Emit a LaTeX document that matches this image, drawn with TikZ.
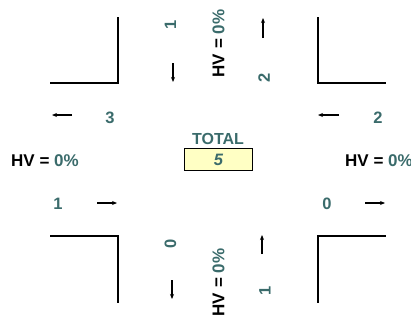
\documentclass[tikz,border=0pt]{standalone}
\usepackage{fontspec}
\setmainfont{Liberation Sans}
\usetikzlibrary{arrows.meta}
\definecolor{tealnum}{HTML}{3A6B6B}
\definecolor{boxfill}{HTML}{FFFFC4}
\begin{document}
\begin{tikzpicture}[x=1pt,y=-1pt,
  curb/.style={line width=2.2pt,line cap=rect},
  flow/.style={line width=1.2pt,-{Stealth[length=5pt,width=4pt]}},
  num/.style={font=\fontsize{16.5}{18}\selectfont\bfseries,text=tealnum,inner sep=0pt},
  hv/.style={font=\fontsize{17}{19}\selectfont\bfseries,inner sep=0pt}]
\useasboundingbox (0,0) rectangle (411,324);
% curbs
\coordinate (tl1) at (51,83); \coordinate (tl2) at (118,83); \coordinate (tl3) at (118,18);
\coordinate (tr1) at (385,83); \coordinate (tr2) at (318,83); \coordinate (tr3) at (318,18);
\coordinate (bl1) at (51,236); \coordinate (bl2) at (118,236); \coordinate (bl3) at (118,302);
\coordinate (br1) at (385,236); \coordinate (br2) at (318,236); \coordinate (br3) at (318,302);
\draw[curb] (tl1) -- (tl2) -- (tl3);
\draw[curb] (tr1) -- (tr2) -- (tr3);
\draw[curb] (bl1) -- (bl2) -- (bl3);
\draw[curb] (br1) -- (br2) -- (br3);
% top approach
\node[num,rotate=90] (tn1) at (170.5,25) {1};
\coordinate (ta1) at (173,63); \coordinate (ta2) at (173,82);
\draw[flow] (ta1) -- (ta2);
\node[hv,rotate=90] (thv) at (218.5,43.5) {HV = \textcolor{tealnum}{0\%}};
\coordinate (tb1) at (263,38); \coordinate (tb2) at (263,18);
\draw[flow] (tb1) -- (tb2);
\node[num,rotate=90] (tn2) at (264,77.5) {2};
% bottom approach
\node[num,rotate=90] (bn0) at (170.5,244) {0};
\coordinate (ba1) at (172,280); \coordinate (ba2) at (172,299);
\draw[flow] (ba1) -- (ba2);
\node[hv,rotate=90] (bhv) at (218.5,282.5) {HV = \textcolor{tealnum}{0\%}};
\coordinate (bb1) at (262,254); \coordinate (bb2) at (262,235);
\draw[flow] (bb1) -- (bb2);
\node[num,rotate=90] (bn1) at (265,291) {1};
% left approach
\coordinate (la1) at (72,115); \coordinate (la2) at (52,115);
\draw[flow] (la1) -- (la2);
\node[num] (ln3) at (110,118) {3};
\node[hv,anchor=west] (lhv) at (11,161) {HV = \textcolor{tealnum}{0\%}};
\node[num] (ln1) at (58,204) {1};
\coordinate (lb1) at (97,203); \coordinate (lb2) at (117,203);
\draw[flow] (lb1) -- (lb2);
% right approach
\coordinate (ra1) at (339,115); \coordinate (ra2) at (318,115);
\draw[flow] (ra1) -- (ra2);
\node[num] (rn2) at (378,118) {2};
\node[hv,anchor=west] (rhv) at (345,161) {HV = \textcolor{tealnum}{0\%}};
\node[num] (rn0) at (327,204) {0};
\coordinate (rb1) at (365,203); \coordinate (rb2) at (385,203);
\draw[flow] (rb1) -- (rb2);
% total
\node[num,font=\fontsize{16}{18}\selectfont\bfseries] (total) at (218,139) {TOTAL};
\node[draw,line width=1.8pt,fill=boxfill,minimum width=68pt,minimum height=22pt,inner sep=0pt,
  text=tealnum,font=\fontsize{16.5}{18}\selectfont\bfseries\itshape] (tbox) at (218.5,159.5) {5};
\end{tikzpicture}
\end{document}
